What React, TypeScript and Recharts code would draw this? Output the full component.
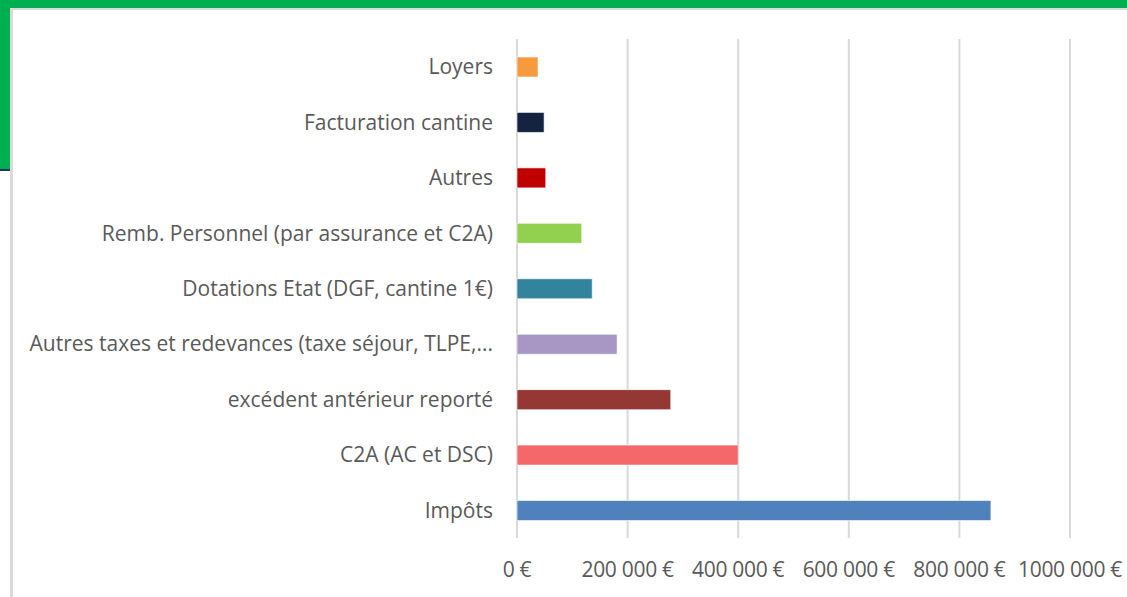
import { BarChart, Bar, XAxis, YAxis, CartesianGrid, Cell } from 'recharts';

// recettes par catégorie, du haut vers le bas
const categories = [
  'Loyers',
  'Facturation cantine',
  'Autres',
  'Remb. Personnel (par assurance et C2A)',
  'Dotations Etat (DGF, cantine 1€)',
  'Autres taxes et redevances (taxe séjour, TLPE,...',
  'excédent antérieur reporté',
  'C2A (AC et DSC)',
  'Impôts',
];
const amounts = [38000, 49000, 52000, 117000, 136000, 181000, 278000, 400000, 857000];

const tickValues = [0, 200000, 400000, 600000, 800000, 1000000];
const tickLabels = ['0 €', '200 000 €', '400 000 €', '600 000 €', '800 000 €', '1000 000 €'];

const barColors = ['#F79A3E', '#14233F', '#C00000', '#92D050', '#31849B', '#A897C5', '#953735', '#F4676B', '#4F81BD'];

const data = categories.map((name, i) => ({ name, value: amounts[i] }));

const font = '"Open Sans", "Liberation Sans", sans-serif';

export default function App() {
  return (
    <div style={{ position: 'fixed', left: 0, top: 0, width: 1127, height: 597, background: '#fff', overflow: 'hidden' }}>
      {/* bandeau vert derrière le graphique */}
      <div style={{ position: 'absolute', left: 0, top: 0, width: 1127, height: 8, background: '#00AF50' }} />
      <div style={{ position: 'absolute', left: 0, top: 0, width: 10, height: 169, background: '#00AF50' }} />
      <div style={{ position: 'absolute', left: 0, top: 169, width: 10, height: 2, background: '#1F3864' }} />
      <div style={{ position: 'absolute', left: 10, top: 8, width: 1117, height: 2, background: '#DADADA' }} />
      <div style={{ position: 'absolute', left: 10, top: 8, width: 3, height: 589, background: '#DADADA' }} />

      <div style={{ position: 'absolute', left: 0, top: 0 }}>
        <BarChart
          width={1127}
          height={597}
          data={data}
          layout="vertical"
          margin={{ top: 39, right: 57, left: 0, bottom: 28 }}
        >
          <CartesianGrid horizontal={false} stroke="#D9D9D9" strokeWidth={2} />
          <XAxis
            type="number"
            domain={[0, 1000000]}
            ticks={tickValues}
            tickFormatter={(v: number) => tickLabels[tickValues.indexOf(v)]}
            axisLine={false}
            tickLine={false}
            tickSize={0}
            tickMargin={24}
            height={31}
            interval={0}
            tick={{ fill: '#595959', fontSize: 21, fontFamily: font, letterSpacing: -0.3 }}
          />
          <YAxis
            type="category"
            dataKey="name"
            width={517}
            axisLine={false}
            tickLine={false}
            tickSize={0}
            tickMargin={24}
            interval={0}
            tick={{ fill: '#595959', fontSize: 21, fontFamily: font }}
          />
          <Bar dataKey="value" barSize={20} isAnimationActive={false} stroke="#ffffff" strokeOpacity={0.6} strokeWidth={1}>
            {data.map((_, i) => (
              <Cell key={i} fill={barColors[i]} />
            ))}
          </Bar>
        </BarChart>
      </div>
    </div>
  );
}
